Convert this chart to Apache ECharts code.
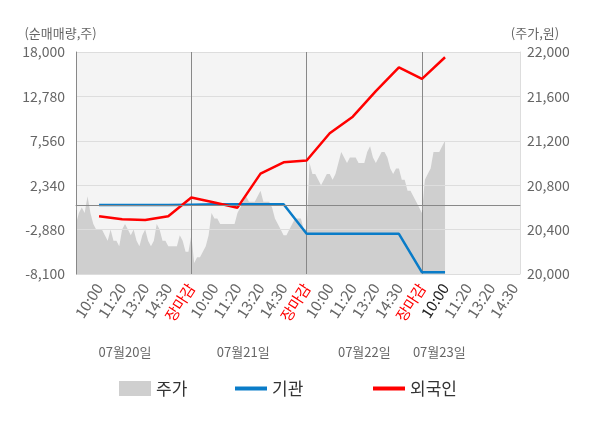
<!DOCTYPE html>
<html>
<head>
<meta charset="utf-8">
<script src="https://cdn.jsdelivr.net/npm/echarts@6/dist/echarts.min.js"></script>
<style>
html, body { margin: 0; padding: 0; background: #fff; }
#main { width: 600px; height: 428px; }
</style>
</head>
<body>
<div id="main"></div>
<script>
// 축 라벨
var timeLabels = ['10:00', '11:20', '13:20', '14:30', '장마감'];
var dayLabels = ['07월20일', '07월21일', '07월22일', '07월23일'];
var dayLabelIdx = [17, 58, 100, 126];
var slotCount = 155;   // 하루 40칸

// 순매매량 (기관 / 외국인) - 라벨 위치마다 한 점
var lineIdx = [8, 16, 24, 32, 40, 48, 56, 64, 72, 80, 88, 96, 104, 112, 120, 128];
var foreign = [-1300, -1650, -1750, -1300, 900, 300, -300, 3700, 5030, 5250, 8440, 10400, 13400, 16200, 14830, 17380];
var institution = [0, 0, 0, 0, 50, 100, 100, 100, 100, -3370, -3370, -3370, -3370, -3370, -7900, -7900];

// 주가
var price = [
    20450, 20550, 20600, 20550, 20700, 20550, 20450, 20400, 20400, 20400,
    20350, 20300, 20400, 20300, 20300, 20250, 20400, 20450, 20400, 20350,
    20400, 20300, 20250, 20350, 20400, 20300, 20250, 20300, 20450, 20400,
    20300, 20300, 20250, 20250, 20250, 20250, 20350, 20300, 20200, 20200,
    20350,
    20100, 20150, 20150, 20200, 20250, 20350, 20550, 20500, 20500, 20450,
    20450, 20450, 20450, 20450, 20450, 20550, 20600, 20650, 20700, 20650,
    20650, 20650, 20700, 20750, 20650, 20650, 20650, 20600, 20500, 20450,
    20400, 20350, 20350, 20400, 20450, 20500, 20500, 20500, 20400, 20400,
    21000, 20900, 20900, 20850, 20800, 20850, 20900, 20900, 20850, 20900,
    21000, 21100, 21050, 21000, 21050, 21050, 21050, 21000, 21000, 21000,
    21100, 21150, 21050, 21000, 21050, 21100, 21100, 21050, 20950, 20900,
    20950, 20950, 20850, 20850, 20750, 20750, 20700, 20650, 20600, 20550,
    20850, 20900, 20950, 21100, 21100, 21100, 21150, 21200
];

var cats = [], dayCats = [];
for (var i = 0; i < slotCount; i++) {
    cats.push(String(i));
    dayCats.push('');
}
dayLabelIdx.forEach(function (p, k) { dayCats[p] = dayLabels[k]; });

function pairs(vals) {
    return lineIdx.map(function (x, k) { return [x, vals[k]]; });
}
function comma(v) { return Number(v).toLocaleString('en-US'); }

var FONT = '"Noto Sans CJK KR", "Noto Sans", sans-serif';
var legendText = { fontSize: 17, color: '#333', fontFamily: FONT };

var myChart = echarts.init(document.getElementById('main'));
var option = {
    animation: false,
    textStyle: { fontFamily: FONT },
    grid: {
        left: 76, right: 80, top: 52, bottom: 154,
        show: true, backgroundColor: '#f4f4f4', borderWidth: 0
    },
    legend: [
        { data: [{ name: '주가', icon: 'rect' }], left: 114, top: 375, itemWidth: 32, itemHeight: 15, textStyle: legendText },
        { data: [{ name: '기관', icon: 'rect' }], left: 230, top: 375, itemWidth: 32, itemHeight: 4, textStyle: legendText },
        { data: [{ name: '외국인', icon: 'rect' }], left: 368, top: 375, itemWidth: 32, itemHeight: 4, textStyle: legendText }
    ],
    xAxis: [{
        type: 'category',
        data: cats,
        boundaryGap: false,
        z: 2,
        axisLine: { lineStyle: { color: '#999' } },
        axisTick: {
            interval: function (i) { return i % 40 === 0; },
            length: 5,
            lineStyle: { color: '#999' }
        },
        axisLabel: {
            interval: function (i) { return i > 0 && i % 8 === 0; },
            rotate: 57,
            margin: 11,
            fontSize: 15,
            fontFamily: FONT,
            formatter: function (v) {
                var i = parseInt(v, 10);
                return timeLabels[(i / 8 - 1) % 5];
            },
            color: function (v) {
                var i = parseInt(v, 10);
                if (i % 40 === 0) return '#ff0000';
                if (i === 128) return '#222';
                return '#666';
            }
        },
        splitLine: {
            show: true,
            interval: function (i) { return i > 0 && i % 40 === 0; },
            lineStyle: { color: '#888' }
        }
    }, {
        type: 'category',
        data: dayCats,
        position: 'bottom',
        offset: 72,
        boundaryGap: false,
        axisLine: { show: false },
        axisTick: { show: false },
        splitLine: { show: false },
        axisLabel: { interval: 0, margin: 0, fontSize: 13, color: '#666', fontFamily: FONT }
    }],
    yAxis: [{
        type: 'value',
        position: 'left',
        min: -8100, max: 18000, interval: 5220,
        z: 2,
        name: '(순매매량,주)',
        nameGap: 12,
        nameTextStyle: { color: '#666', fontSize: 13, padding: [0, 31, 0, 0], fontFamily: FONT },
        axisLine: { show: true, lineStyle: { color: '#888' } },
        axisTick: { show: false },
        axisLabel: { color: '#666', fontSize: 14, margin: 11, formatter: comma, fontFamily: FONT },
        splitLine: { lineStyle: { color: '#ddd' } }
    }, {
        type: 'value',
        position: 'right',
        min: 20000, max: 22000, interval: 400,
        z: 2,
        name: '(주가,원)',
        nameGap: 12,
        nameTextStyle: { color: '#666', fontSize: 13, padding: [0, 0, 0, 30], fontFamily: FONT },
        axisLine: { show: true, lineStyle: { color: '#ddd' } },
        axisTick: { show: false },
        axisLabel: { color: '#666', fontSize: 14, margin: 7, formatter: comma, fontFamily: FONT },
        splitLine: { show: false }
    }],
    series: [{
        name: '주가',
        type: 'line',
        yAxisIndex: 1,
        data: price,
        symbol: 'none',
        silent: true,
        z: 1,
        itemStyle: { color: '#cfcfcf' },
        lineStyle: { width: 0 },
        areaStyle: { color: '#cfcfcf', opacity: 1 }
    }, {
        name: '기관',
        type: 'line',
        data: pairs(institution),
        symbol: 'none',
        z: 3,
        itemStyle: { color: '#0a7cc8' },
        lineStyle: { width: 2.5, color: '#0a7cc8' },
        markLine: {
            silent: true,
            symbol: 'none',
            label: { show: false },
            lineStyle: { color: '#888', type: 'solid', width: 1 },
            data: [{ yAxis: 0 }]
        }
    }, {
        name: '외국인',
        type: 'line',
        data: pairs(foreign),
        symbol: 'none',
        z: 4,
        itemStyle: { color: '#ff0000' },
        lineStyle: { width: 2.5, color: '#ff0000' }
    }]
};
myChart.setOption(option);
</script>
</body>
</html>
